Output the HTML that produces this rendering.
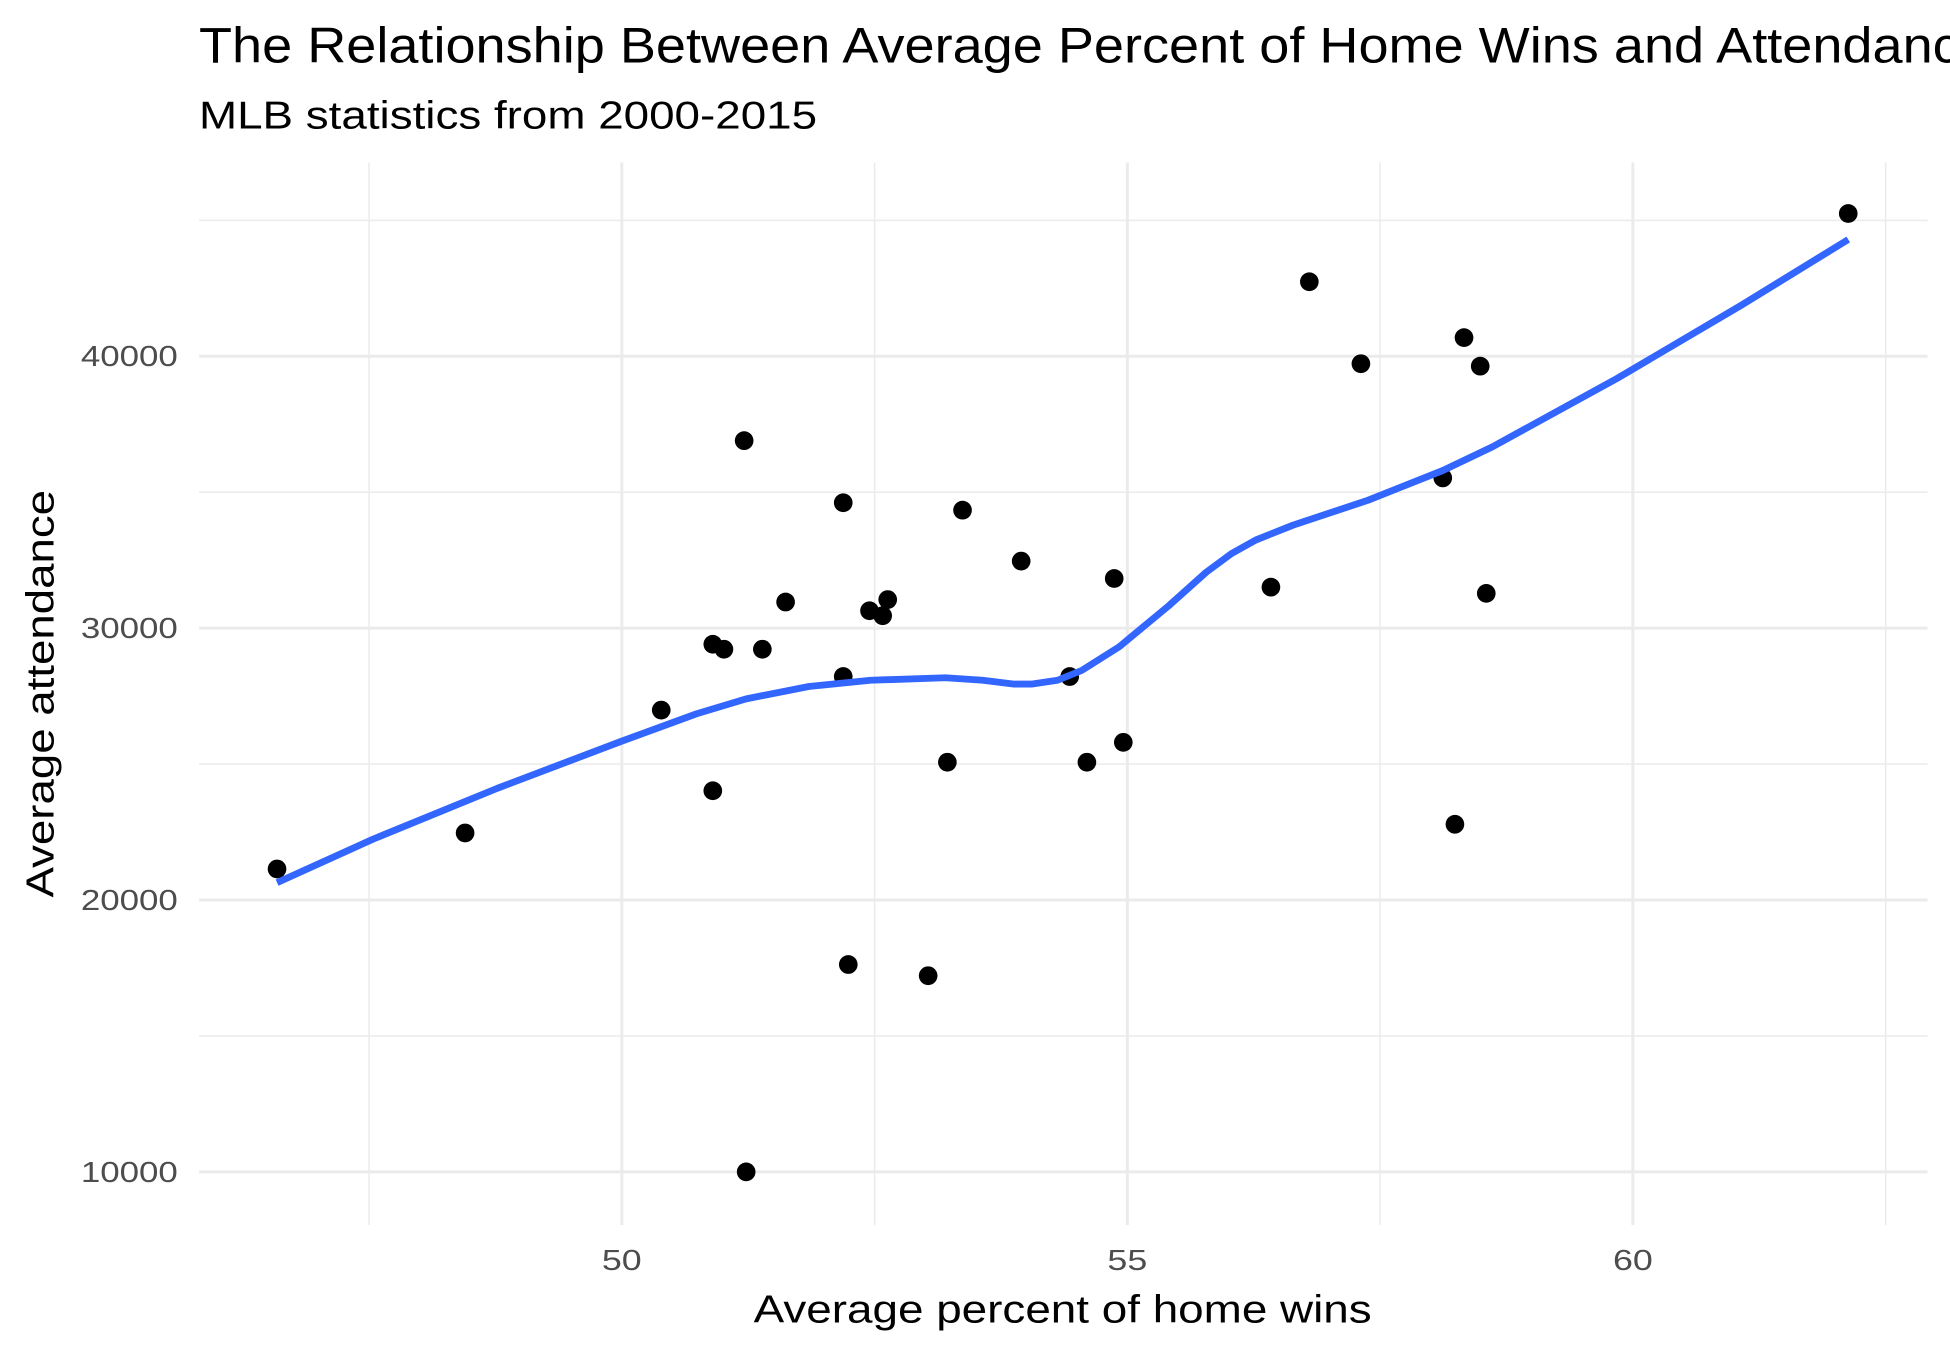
<!DOCTYPE html>
<html><head><meta charset="utf-8"><style>
html,body{margin:0;padding:0;background:#fff;overflow:hidden}
svg{display:block}
text{font-family:"Liberation Sans",Arial,sans-serif}
</style></head><body>
<svg id="chart" width="1950" height="1350" viewBox="0 0 1568 1080" preserveAspectRatio="none" xmlns="http://www.w3.org/2000/svg">
<text x="160" y="50" font-size="40" fill="#000" textLength="1440" lengthAdjust="spacingAndGlyphs">The Relationship Between Average Percent of Home Wins and Attendance</text>
<text x="160" y="103" font-size="31" fill="#000" textLength="497" lengthAdjust="spacingAndGlyphs">MLB statistics from 2000-2015</text>
<g id="grid"></g><g id="ticks"></g><g id="marks"></g>
<text x="606" y="1058" font-size="31" fill="#000" textLength="497" lengthAdjust="spacingAndGlyphs">Average percent of home wins</text>
<text transform="translate(43,718) rotate(-90)" font-size="31" fill="#000" textLength="326" lengthAdjust="spacingAndGlyphs">Average attendance</text>
</svg>
<script>
const xMajor=[50,55,60];
const xMinor=[47.5,52.5,57.5,62.5];
const yMajor=[10000,20000,30000,40000];
const yMinor=[15000,25000,35000,45000];
const winPct=[46.59,48.45,50.39,50.90,51.01,50.90,51.21,51.23,51.39,51.62,52.19,52.19,52.24,52.45,52.58,52.63,53.03,53.22,53.37,53.95,54.43,54.60,54.87,54.96,56.42,56.80,57.31,58.12,58.24,58.33,58.49,58.55,62.13];
const attendance=[21142,22466,26986,29406,29224,24018,36895,10000,29224,30959,34612,28219,17626,30639,30457,31050,17215,25068,34338,32466,28219,25068,31826,25799,31507,42740,39726,35525,22785,40685,39635,31279,45251];
const smoothX=[46.59,47.54,48.77,50.00,50.74,51.23,51.85,52.46,53.20,53.57,53.87,54.06,54.31,54.55,54.92,55.41,55.78,56.03,56.27,56.64,57.38,58.12,58.61,59.84,61.07,62.13];
const smoothY=[20639,22237,24110,25845,26849,27397,27854,28082,28174,28082,27945,27945,28082,28447,29315,30822,32055,32740,33242,33790,34703,35799,36667,39178,41872,44292];
const NS='http://www.w3.org/2000/svg';
const L=160,R=1550,T=130,B=980;
const xs=v=>500+(v-50)*81.3;
const ys=v=>937.5-(v-10000)*0.02175;
function mk(tag,attrs,parent){const e=document.createElementNS(NS,tag);for(const k in attrs)e.setAttribute(k,attrs[k]);parent.appendChild(e);return e;}
const grid=document.getElementById('grid'),ticks=document.getElementById('ticks'),marks=document.getElementById('marks');
xMinor.forEach(v=>{const e=mk('line',{x1:xs(v),x2:xs(v),y1:T,y2:B,stroke:'#ebebeb','stroke-width':1.2},grid);

});
yMinor.forEach(v=>{const e=mk('line',{x1:L,x2:R,y1:ys(v),y2:ys(v),stroke:'#ebebeb','stroke-width':1.2},grid);

});
xMajor.forEach(v=>{const e=mk('line',{x1:xs(v),x2:xs(v),y1:T,y2:B,stroke:'#ebebeb','stroke-width':2.4},grid);


const t=mk('text',{x:xs(v)-16,y:1016,'font-size':23,fill:'#4d4d4d',textLength:32,lengthAdjust:'spacingAndGlyphs'},ticks);t.textContent=v;

});
yMajor.forEach(v=>{const e=mk('line',{x1:L,x2:R,y1:ys(v),y2:ys(v),stroke:'#ebebeb','stroke-width':2.4},grid);


const t=mk('text',{x:65,y:ys(v)+8,'font-size':23,fill:'#4d4d4d',textLength:78,lengthAdjust:'spacingAndGlyphs'},ticks);t.textContent=v;

});
winPct.forEach((v,i)=>{const c=mk('ellipse',{cx:xs(v),cy:ys(attendance[i]),rx:7.5,ry:7.5,fill:'#000'},marks);

});
let d='';smoothX.forEach((v,i)=>{d+=(i?'L':'M')+xs(v).toFixed(1)+','+ys(smoothY[i]).toFixed(1);});
const p=mk('path',{d:d,fill:'none',stroke:'#3366FF','stroke-width':5.5,'stroke-linejoin':'round'},marks);


</script>
</body></html>
